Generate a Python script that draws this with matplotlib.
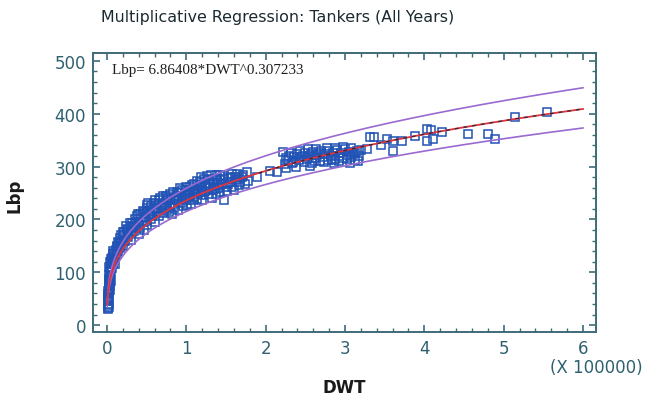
import numpy as np
import matplotlib.pyplot as plt
from matplotlib.ticker import MultipleLocator

# DWT in units of 100000 tonnes, Lbp in metres
dwt = [0.01, 0.01, 0.012, 0.012, 0.015, 0.015, 0.018, 0.02, 0.02, 0.022, 0.025, 0.025,
       0.028, 0.03, 0.03, 0.035, 0.035, 0.04, 0.04, 0.045, 0.05, 0.05, 0.055, 0.06,
       0.065, 0.07, 0.075, 0.08, 0.09, 0.1, 0.1, 0.11, 0.12, 0.13, 0.14, 0.15, 0.16,
       0.17, 0.18, 0.2, 0.2, 0.22, 0.23, 0.25, 0.26, 0.28, 0.3, 0.3, 0.32, 0.34, 0.35,
       0.37, 0.38, 0.4, 0.4, 0.42, 0.44, 0.45, 0.46, 0.48, 0.5, 0.5, 0.52, 0.53, 0.55,
       0.56, 0.58, 0.6, 0.6, 0.62, 0.64, 0.65, 0.67, 0.68, 0.7, 0.72, 0.74, 0.75, 0.77,
       0.8, 0.8, 0.82, 0.84, 0.86, 0.88, 0.9, 0.9, 0.92, 0.94, 0.96, 0.98, 1.0, 1.0,
       1.02, 1.04, 1.06, 1.08, 1.1, 1.1, 1.12, 1.15, 1.17, 1.2, 1.2, 1.22, 1.25, 1.26,
       1.28, 1.3, 1.32, 1.34, 1.36, 1.38, 1.4, 1.42, 1.44, 1.46, 1.47, 1.5, 1.52, 1.55,
       1.57, 1.6, 1.62, 1.64, 1.66, 1.7, 1.74, 1.77, 1.78, 1.89, 2.05, 2.14,
       # extra points filling the dense band
       0.015, 0.02, 0.02, 0.025, 0.03, 0.03, 0.035, 0.04, 0.04, 0.045, 0.05,
       0.05, 0.06, 0.07, 0.08, 0.09, 0.12, 0.14, 0.16, 0.18, 0.2, 0.22, 0.24, 0.27,
       0.29, 0.31, 0.33, 0.36, 0.39, 0.41, 0.43, 0.47, 0.49, 0.51, 0.54, 0.57, 0.59,
       0.63, 0.66, 0.69, 0.71, 0.73, 0.76, 0.78, 0.81, 0.83, 0.85, 0.87, 0.91, 0.93,
       0.95, 0.97, 0.99, 1.01, 1.03, 1.05, 1.07, 1.09, 1.11, 1.13, 1.14, 1.16, 1.18,
       1.19, 1.21, 1.23, 1.24, 1.27, 1.29, 1.31, 1.33, 1.35, 1.37, 1.39, 1.41, 1.43,
       1.45, 1.48, 1.51, 1.53, 1.56, 1.58, 1.61, 1.65, 1.68, 1.72,
       # 2.2 - 3.2 cluster
       2.22, 2.24, 2.28, 2.3, 2.33, 2.36, 2.38, 2.4, 2.42, 2.45, 2.48, 2.5, 2.52, 2.55,
       2.58, 2.6, 2.62, 2.65, 2.68, 2.7, 2.72, 2.75, 2.78, 2.8, 2.82, 2.85, 2.88, 2.9,
       2.92, 2.95, 2.98, 3.0, 3.02, 3.05, 3.08, 3.1, 3.12, 3.15, 3.18,
       2.25, 2.32, 2.35, 2.43, 2.47, 2.53, 2.57, 2.61, 2.64, 2.67, 2.73, 2.77, 2.83,
       2.87, 2.93, 2.97, 3.03, 3.07, 3.13, 3.17, 3.2, 2.26, 2.56, 2.86, 3.06,
       # large tankers
       3.28, 3.32, 3.36, 3.45, 3.53, 3.6, 3.6, 3.72, 3.88, 4.03, 4.08, 4.03, 4.11, 4.22,
       4.55, 4.8, 4.89, 5.14, 5.54]
lbp = [32, 38, 45, 52, 58, 64, 48, 70, 62, 76, 82, 68,
       88, 94, 78, 100, 86, 104, 92, 110, 116, 100, 120, 108,
       124, 115, 130, 120, 136, 128, 116, 142, 134, 148, 140, 156, 146,
       160, 152, 168, 150, 176, 160, 182, 166, 172, 186, 162, 194, 178, 200,
       184, 206, 192, 172, 210, 196, 216, 180, 204, 222, 190, 232, 210, 200,
       226, 214, 236, 196, 220, 230, 206, 240, 222, 212, 232, 244, 218, 236,
       248, 226, 210, 240, 230, 252, 236, 218, 260, 244, 226, 250, 256, 236,
       246, 262, 230, 252, 268, 242, 258, 248, 270, 256, 236, 276, 262, 282,
       248, 268, 240, 276, 258, 284, 266, 252, 274, 282, 236, 262, 278, 270,
       286, 256, 274, 286, 266, 280, 267, 290, 272, 280, 292, 290,
       30, 35, 40, 58, 52, 110, 66, 74, 120, 84, 126,
       108, 128, 134, 140, 124, 150, 158, 164, 170, 176, 160, 188, 180,
       194, 176, 188, 196, 210, 184, 202, 214, 198, 228, 218, 206, 232,
       214, 236, 226, 244, 222, 240, 214, 238, 252, 222, 244, 250, 232,
       256, 240, 262, 228, 252, 244, 266, 236, 254, 272, 238, 262, 252,
       280, 246, 266, 254, 274, 260, 284, 256, 268, 248, 276, 260, 284,
       268, 276, 254, 268, 280, 262, 280, 276, 270, 284,
       327, 304, 312, 320, 306, 318, 300, 324, 312, 318, 308, 326, 314, 320,
       306, 328, 316, 322, 310, 330, 318, 324, 312, 330, 320, 326, 314, 332,
       320, 326, 316, 334, 322, 328, 318, 324, 312, 330, 320,
       316, 326, 308, 330, 320, 334, 324, 310, 334, 326, 308, 336, 312,
       336, 310, 338, 314, 336, 326, 310, 332, 298, 302, 306, 306,
       333, 356, 356, 340, 352, 349, 330, 349, 358, 371, 369, 349, 352, 365,
       362, 362, 352, 394, 403]

# fitted model printed on the chart
coef_a = 6.86408
coef_b = 0.307233
band_hi = 1.098   # prediction limits, read at the right edge
band_lo = 0.912

fig = plt.figure(figsize=(6.48, 4.02), dpi=100)
ax = fig.add_axes([0.1435, 0.1716, 0.7765, 0.6941])

tick_col = '#2f6070'
spine_col = '#3d6b78'

xs = np.linspace(0.003, 6.0, 400)
fit = coef_a * (xs * 1e5) ** coef_b

ax.plot(dwt, lbp, 's', mfc='none', mec='#2152b5', ms=5.8, mew=1.1, zorder=2)
ax.plot(xs, fit * band_hi, color='#9a6ad0', lw=1.2, zorder=3)
ax.plot(xs, fit * band_lo, color='#9a6ad0', lw=1.2, zorder=3)
ax.plot(xs, fit, color='#e0343c', lw=1.3, zorder=4)
sel = xs >= 1.9
ax.plot(xs[sel], fit[sel], color='#2a2a3a', lw=0.9, dashes=(3, 4), zorder=5)

ax.set_xlim(-0.177, 6.166)
ax.set_ylim(-13, 515)
ax.xaxis.set_major_locator(MultipleLocator(1))
ax.xaxis.set_minor_locator(MultipleLocator(0.2))
ax.yaxis.set_major_locator(MultipleLocator(100))
ax.yaxis.set_minor_locator(MultipleLocator(20))
ax.tick_params(which='both', direction='in', top=True, right=True,
               color=spine_col, labelcolor=tick_col, labelsize=12)
ax.tick_params(axis='x', which='major', length=5, width=1.2, pad=5)
ax.tick_params(axis='y', which='major', length=5, width=1.2, pad=5)
ax.tick_params(which='minor', length=3, width=1.0)
for s in ax.spines.values():
    s.set_color(spine_col)
    s.set_linewidth(1.4)

ax.text(0.038, 0.94, 'Lbp= 6.86408*DWT^0.307233', transform=ax.transAxes,
        family='Liberation Serif', fontsize=10.9, color='#1e1e1e', va='center', ha='left')

fig.text(0.428, 0.957, 'Multiplicative Regression: Tankers (All Years)',
         ha='center', va='center', fontsize=11.4, color='#1a2a30')
fig.text(0.022, 0.512, 'Lbp', rotation=90, ha='center', va='center',
         fontsize=12, fontweight='bold', color='#1a1a1a')
fig.text(0.532, 0.035, 'DWT', ha='center', va='center',
         fontsize=12, fontweight='bold', color='#1a1a1a')
fig.text(0.992, 0.085, '(X 100000)', ha='right', va='center',
         fontsize=12, color=tick_col)

fig.savefig('out.png', dpi=100, facecolor='white')
